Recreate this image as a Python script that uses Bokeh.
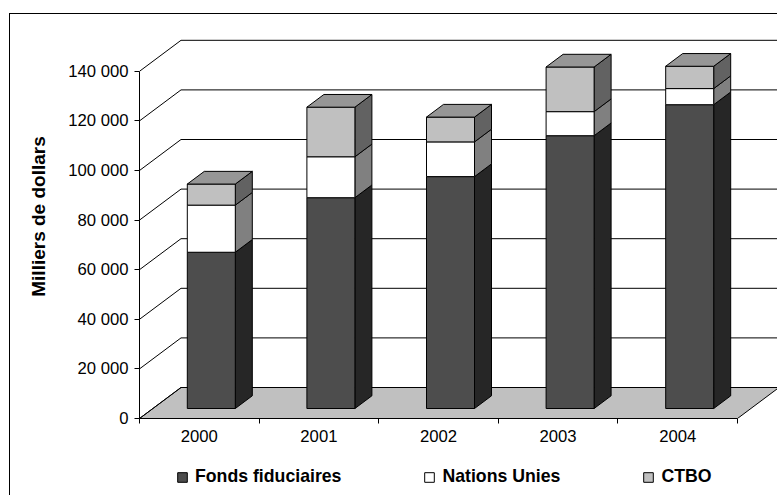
from bokeh.plotting import figure
from bokeh.models import Range1d, FixedTicker, Legend, LegendItem, ColumnDataSource
from bokeh.layouts import column
from bokeh.embed import file_html
from bokeh.resources import INLINE

# ---------------- data ----------------
years = ["2000", "2001", "2002", "2003", "2004"]
fonds_fiduciaires = [63000, 85000, 93500, 110000, 122500]
nations_unies = [19000, 16500, 14000, 9700, 6500]
ctbo = [8500, 20000, 10000, 18000, 9000]
series_names = ["Fonds fiduciaires", "Nations Unies", "CTBO"]
y_ticks = [0, 20000, 40000, 60000, 80000, 100000, 120000, 140000]
y_tick_labels = ["0", "20 000", "40 000", "60 000", "80 000", "100 000", "120 000", "140 000"]
y_title = "Milliers de dollars"

# ---------------- styles / geometry ----------------
front_colors = ["#4d4d4d", "#ffffff", "#c0c0c0"]
side_colors = ["#262626", "#808080", "#626262"]
top_color = "#969696"
FONT = "Liberation Sans"

# whole chart sits at page offset (10, 14) inside a 1px border
W = 767
H1, H2 = 438, 43
BL, BB, BT, BR = 129, 34, 0, 0
frame_w = W - BL - BR
frame_h = H1 - BB - BT
PX_CAT = 119.6            # pixels per category
PX_PER_VAL = 2.48 / 1000  # pixels per value unit

def px_x(px):
    return px / PX_CAT

def px_y(px):
    return px / PX_PER_VAL

x_start = -0.5
x_end = x_start + px_x(frame_w)
y_end = px_y(frame_h)

back_dx, back_dy = px_x(41.5), px_y(31)
plane_dx, plane_dy = px_x(12), px_y(10)
half_w = px_x(24)
depth_dx, depth_dy = px_x(17), px_y(12.7)

n = len(years)
p = figure(width=W, height=H1, x_range=Range1d(x_start, x_end), y_range=Range1d(0, y_end),
           output_backend="svg", toolbar_location=None,
           min_border_left=BL, min_border_right=BR, min_border_top=BT, min_border_bottom=BB,
           outline_line_color=None)
p.xgrid.visible = False
p.ygrid.visible = False

# floor
left_edge, right_edge = -0.5, n - 0.5
p.patch([left_edge, right_edge, right_edge + back_dx, left_edge + back_dx],
        [0, 0, back_dy, back_dy], fill_color="#c0c0c0", line_color="black", line_width=1)

# back wall gridlines + left wall diagonals
p.segment(x0=[left_edge + back_dx] * len(y_ticks), y0=[v + back_dy for v in y_ticks],
          x1=[right_edge + back_dx] * len(y_ticks), y1=[v + back_dy for v in y_ticks],
          line_color="black", line_width=1)
p.segment(x0=[left_edge] * len(y_ticks), y0=y_ticks,
          x1=[left_edge + back_dx] * len(y_ticks), y1=[v + back_dy for v in y_ticks],
          line_color="black", line_width=1)

# bars
series = [fonds_fiduciaires, nations_unies, ctbo]
bottoms = [0] * n
for k, vals in enumerate(series):
    tops = [b + v for b, v in zip(bottoms, vals)]
    L = [i + plane_dx - half_w for i in range(n)]
    R = [i + plane_dx + half_w for i in range(n)]
    B = [b + plane_dy for b in bottoms]
    T = [t + plane_dy for t in tops]
    side_xs = [[r, r + depth_dx, r + depth_dx, r] for r in R]
    side_ys = [[b, b + depth_dy, t + depth_dy, t] for b, t in zip(B, T)]
    p.patches(side_xs, side_ys, fill_color=side_colors[k], line_color="black", line_width=1)
    src = ColumnDataSource(dict(left=L, right=R, bottom=B, top=T))
    p.quad(left="left", right="right", bottom="bottom", top="top", source=src,
           fill_color=front_colors[k], line_color="black", line_width=1)
    if k == len(series) - 1:
        top_xs = [[l, r_, r_ + depth_dx, l + depth_dx] for l, r_ in zip(L, R)]
        top_ys = [[t, t, t + depth_dy, t + depth_dy] for t in T]
        p.patches(top_xs, top_ys, fill_color=top_color, line_color="black", line_width=1)
    bottoms = tops

# axes
xa = p.xaxis[0]
xa.ticker = FixedTicker(ticks=list(range(n)), minor_ticks=[i - 0.5 for i in range(n + 1)])
xa.major_label_overrides = {i: y for i, y in enumerate(years)}
xa.bounds = (left_edge, right_edge)
xa.major_tick_line_color = None
xa.major_tick_out = 5
xa.minor_tick_out = 5
xa.minor_tick_in = 0
xa.minor_tick_line_color = "black"
xa.axis_line_color = "black"
xa.major_label_standoff = 6
xa.major_label_text_font = FONT
xa.major_label_text_font_size = "16.7px"
xa.major_label_text_color = "black"

ya = p.yaxis[0]
ya.ticker = FixedTicker(ticks=y_ticks)
ya.major_label_overrides = {v: s for v, s in zip(y_ticks, y_tick_labels)}
ya.bounds = (0, y_ticks[-1])
ya.major_tick_out = 5
ya.major_tick_in = 0
ya.minor_tick_line_color = None
ya.axis_line_color = "black"
ya.major_tick_line_color = "black"
ya.major_label_standoff = 6
ya.major_label_text_font = FONT
ya.major_label_text_font_size = "16.7px"
ya.major_label_text_color = "black"
ya.axis_label = y_title
ya.axis_label_text_font = FONT
ya.axis_label_text_font_style = "bold"
ya.axis_label_text_font_size = "19px"
ya.axis_label_text_color = "black"
ya.axis_label_standoff = 16

# ---------------- legend strip (its frame is aligned with the main frame) ----------------
pl = figure(width=W, height=H2, x_range=Range1d(0, 1), y_range=Range1d(0, 1),
            output_backend="svg", toolbar_location=None,
            x_axis_location=None, y_axis_location=None,
            min_border_left=0, min_border_right=0, min_border_top=0, min_border_bottom=0,
            outline_line_color=None)
pl.grid.visible = False
# swatch renderers: their single box lies outside the strip's visible range, only the legend shows them
legend_renderers = [pl.quad(left=[2], right=[3], bottom=[2], top=[3], fill_color=c,
                            line_color="black", line_width=1)
                    for c in front_colors]
legend = Legend(items=[LegendItem(label=nm, renderers=[r]) for nm, r in zip(series_names, legend_renderers)],
                orientation="horizontal", location=(37, 8), spacing=82,
                glyph_width=12, glyph_height=12, label_standoff=7, padding=0, margin=0,
                border_line_color=None, background_fill_alpha=0,
                label_text_font=FONT, label_text_font_style="bold", label_text_font_size="17.7px",
                label_text_color="black")
pl.add_layout(legend)

layout = column(p, pl, spacing=0,
                styles={"border-top": "1px solid black", "border-left": "1px solid black",
                        "margin-left": "9px", "margin-top": "13px"})

open("out.html", "w").write(file_html(layout, INLINE))
